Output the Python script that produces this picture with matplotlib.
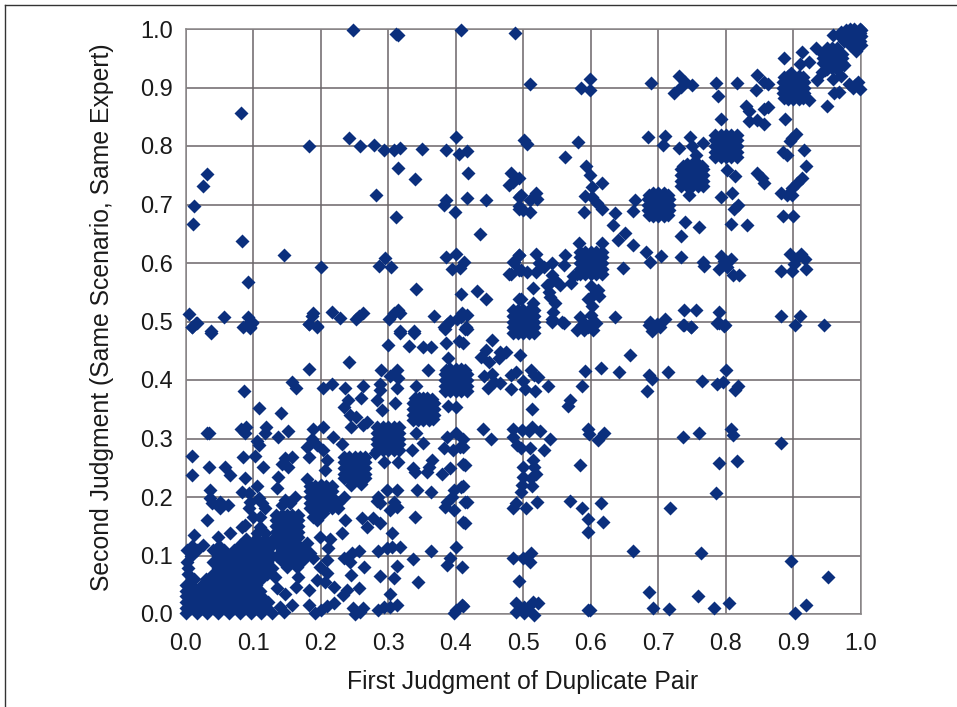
import matplotlib
matplotlib.use("Agg")
import matplotlib.pyplot as plt

plt.rcParams['font.family'] = ['Liberation Sans', 'DejaVu Sans']

# Readings as (first judgment, second judgment)
upper_left = [
(.248,.998),(.311,.991),(.315,.989),(.407,.998),(.488,.994),(.082,.857),(.242,.814),(.183,.80),(.258,.80),(.279,.802),
(.294,.793),(.309,.793),(.318,.796),(.35,.795),(.386,.794),(.40,.815),(.404,.787),(.416,.792),(.032,.752),(.025,.732),
(.013,.697),(.011,.667),(.083,.637),(.145,.614),(.201,.594),(.092,.567),(.282,.716),(.315,.763),(.339,.744),(.418,.753),
(.311,.679),(.386,.708),(.382,.699),(.399,.687),(.417,.711),(.445,.708),(.436,.649),(.481,.753),(.479,.733),(.485,.739),
(.493,.745),(.493,.713),(.494,.692),(.385,.61),(.40,.615),(.295,.608),(.286,.595),(.304,.593),(.394,.59),(.406,.591),
(.412,.601),(.485,.602),(.493,.614),(.479,.582),(.493,.588),(.341,.556),(.408,.547),(.432,.552),(.444,.538),(.493,.538),
(.005,.513),(.015,.497),(.009,.491),(.037,.483),(.056,.508),(.092,.508),(.085,.491),(.098,.497),(.095,.489),(.189,.515),
(.187,.509),(.182,.495),(.194,.492),(.216,.517),(.229,.506),(.252,.505),(.257,.509),(.262,.514),(.314,.52),(.308,.514),
(.318,.515),(.301,.504),(.317,.484),(.367,.51),(.338,.484),(.409,.514),(.417,.511),(.402,.504),(.387,.495),(.382,.49),
(.415,.491),(.392,.501),(.407,.507),
]
upper_right = [
(.51,.906),(.586,.899),(.598,.915),(.598,.896),(.689,.907),(.731,.92),(.739,.91),(.733,.901),(.75,.905),(.723,.891),
(.786,.907),(.788,.885),(.817,.908),(.846,.921),(.856,.91),(.863,.906),(.845,.895),(.83,.868),(.834,.859),(.856,.864),
(.862,.867),(.834,.842),(.846,.844),(.857,.838),(.793,.847),(.888,.847),(.886,.95),(.95,.868),(.96,.89),(.968,.893),
(.935,.912),(.959,.914),(.97,.919),(.982,.906),(.995,.91),(.988,.9),(.998,.897),(.991,.904),(.913,.961),(.934,.968),
(.923,.944),(.91,.941),(.947,.93),(.942,.927),(.975,.938),(.965,.932),(.958,.99),(.923,.878),(.897,.925),
(.745,.717),(.747,.816),(.71,.817),(.707,.802),(.684,.815),(.731,.796),(.75,.80),(.766,.805),(.755,.785),(.802,.759),
(.814,.748),(.792,.713),(.809,.719),(.818,.699),(.812,.693),(.846,.753),(.854,.745),(.856,.736),(.885,.79),(.891,.785),
(.915,.793),(.898,.813),(.904,.82),(.895,.809),(.919,.766),(.913,.745),(.905,.736),(.898,.728),(.881,.72),(.89,.716),
(.898,.716),(.885,.681),(.9,.681),(.807,.667),(.831,.665),(.739,.67),(.76,.662),(.733,.647),(.666,.708),(.662,.689),
(.501,.81),(.505,.803),(.581,.806),(.561,.782),(.593,.765),(.598,.75),(.602,.73),(.616,.737),(.592,.715),(.602,.713),
(.609,.702),(.617,.692),(.59,.687),(.636,.685),(.633,.665),(.64,.64),(.651,.652),(.663,.631),(.681,.619),(.688,.601),
(.704,.612),(.734,.61),(.766,.602),(.767,.595),(.792,.612),(.797,.603),(.807,.606),(.789,.59),(.801,.594),(.81,.58),
(.819,.58),(.895,.616),(.911,.616),(.904,.607),(.917,.607),(.901,.598),(.918,.59),(.881,.586),(.898,.586),(.583,.634),
(.617,.634),(.496,.716),(.518,.719),(.51,.708),(.52,.71),(.5,.69),(.493,.697),(.51,.687),(.648,.591),(.481,.582),
(.496,.588),(.505,.585),(.518,.585),(.493,.614),(.486,.602),(.518,.616),(.523,.6),(.53,.594),(.542,.6),(.561,.614),
(.56,.597),(.542,.58),(.547,.571),(.535,.562),(.54,.565),(.538,.55),(.54,.542),(.555,.562),(.57,.565),(.58,.582),
(.573,.577),(.515,.557),(.496,.538),(.515,.531),(.547,.531),(.544,.517),(.542,.505),(.557,.5),(.6,.56),(.61,.554),
(.602,.543),(.612,.543),(.596,.538),(.602,.527),(.635,.507),(.584,.508),(.6,.511),(.587,.494),(.607,.497),(.596,.49),
(.688,.5),(.698,.496),(.71,.505),(.738,.52),(.756,.519),(.737,.494),(.748,.491),(.789,.517),(.787,.497),(.798,.494),
(.881,.509),(.909,.509),(.903,.494),(.945,.494),
]
lower_right = [
(.543,.5),(.56,.497),(.58,.485),(.59,.485),(.603,.485),(.59,.497),(.6,.497),(.686,.494),(.691,.483),(.703,.491),
(.738,.494),(.749,.49),(.79,.497),(.797,.492),(.416,.487),(.41,.463),(.454,.468),(.444,.451),(.437,.44),(.449,.431),
(.466,.448),(.464,.437),(.474,.448),(.495,.442),(.658,.443),(.442,.406),(.454,.411),(.457,.397),(.466,.395),(.448,.386),
(.481,.385),(.489,.413),(.481,.408),(.511,.417),(.499,.399),(.516,.408),(.503,.385),(.521,.405),(.517,.381),(.536,.39),
(.591,.416),(.615,.42),(.642,.414),(.587,.39),(.686,.408),(.691,.401),(.683,.381),(.714,.414),(.765,.399),(.787,.393),
(.796,.397),(.8,.417),(.818,.39),(.814,.383),(.513,.35),(.569,.365),(.566,.356),(.44,.316),(.452,.299),(.485,.317),
(.484,.303),(.498,.314),(.508,.312),(.513,.32),(.525,.312),(.54,.299),(.53,.281),(.491,.289),(.496,.283),(.51,.283),
(.595,.317),(.597,.308),(.611,.297),(.62,.31),(.736,.303),(.76,.31),(.807,.317),(.811,.306),(.881,.293),(.41,.286),
(.413,.255),(.41,.218),(.416,.192),(.413,.156),(.584,.254),(.79,.258),(.816,.261),(.786,.207),(.515,.263),(.516,.252),
(.5,.252),(.518,.24),(.5,.235),(.512,.232),(.498,.221),(.513,.218),(.496,.209),(.489,.189),(.484,.181),(.504,.182),
(.52,.192),(.569,.193),(.587,.182),(.615,.189),(.595,.162),(.618,.158),(.595,.14),(.717,.181),(.662,.108),(.763,.105),
(.897,.091),(.951,.063),(.485,.095),(.499,.095),(.512,.105),(.51,.089),(.494,.056),(.686,.037),(.758,.031),(.804,.018),
(.783,.011),(.918,.015),(.902,.001),(.692,.011),(.716,.009),(.599,.007),(.595,.006),(.411,.014),(.489,.018),(.514,.021),
(.501,.012),(.489,.004),(.501,.001),(.516,-.001),(.521,.018),(.505,.008),
]
lower_left = [
(.009,.49),(.016,.497),(.037,.481),(.095,.49),(.093,.497),(.098,.5),(.182,.496),(.194,.49),(.317,.481),(.338,.481),
(.299,.46),(.331,.458),(.352,.456),(.363,.456),(.386,.464),(.404,.466),(.384,.487),(.413,.487),(.242,.431),(.183,.418),
(.289,.417),(.313,.417),(.359,.417),(.389,.438),(.157,.397),(.163,.386),(.086,.381),(.203,.386),(.217,.394),(.236,.386),
(.263,.389),(.259,.369),(.241,.366),(.288,.394),(.287,.383),(.303,.406),(.315,.403),(.313,.386),(.341,.39),(.283,.366),
(.31,.36),(.29,.349),(.234,.353),(.243,.34),(.252,.336),(.268,.329),(.262,.323),(.245,.319),(.388,.356),(.4,.353),
(.109,.352),(.141,.343),(.034,.309),(.031,.31),(.082,.316),(.089,.32),(.088,.309),(.119,.32),(.118,.309),(.151,.313),
(.136,.303),(.106,.295),(.108,.289),(.189,.317),(.203,.319),(.187,.3),(.218,.303),(.231,.291),(.18,.286),(.194,.289),
(.204,.28),(.182,.269),(.293,.26),(.28,.275),(.341,.309),(.335,.281),(.352,.292),(.364,.263),(.336,.25),(.34,.243),
(.357,.243),(.36,.252),(.379,.24),(.392,.249),(.411,.256),(.406,.286),(.396,.28),(.382,.283),(.387,.303),(.401,.309),
(.411,.3),(.315,.259),(.209,.263),(.206,.246),(.147,.266),(.157,.269),(.142,.257),(.152,.252),(.137,.235),(.085,.268),
(.103,.27),(.115,.252),(.088,.232),(.18,.23),(.01,.27),(.009,.238),(.034,.252),(.058,.252),(.066,.238),(.105,.218),
(.083,.209),(.093,.206),(.108,.198),(.095,.192),(.113,.189),(.093,.181),(.118,.181),(.1,.166),(.11,.166),(.036,.212),
(.036,.198),(.039,.189),(.051,.192),(.063,.186),(.051,.181),(.031,.161),(.012,.135),(.066,.138),(.048,.132),(.083,.149),
(.088,.152),(.026,.118),(.135,.215),(.147,.195),(.162,.2),(.142,.186),(.155,.189),(.285,.2),(.298,.212),(.313,.212),
(.288,.189),(.308,.192),(.303,.178),(.313,.183),(.283,.194),(.343,.212),(.363,.209),(.397,.212),(.407,.217),(.387,.192),
(.394,.2),(.397,.177),(.414,.192),(.384,.183),(.411,.158),(.339,.166),(.261,.164),(.268,.148),(.278,.164),(.288,.155),
(.236,.161),(.194,.161),(.204,.172),(.189,.166),(.305,.139),(.298,.112),(.285,.107),(.318,.114),(.306,.115),(.363,.107),
(.4,.115),(.336,.094),(.313,.082),(.392,.095),(.387,.084),(.409,.081),(.288,.065),(.309,.061),(.344,.055),(.303,.035),
(.313,.015),(.285,.007),(.293,.012),(.303,.012),(.397,.001),(.409,.015),(.401,.007),(.199,.132),(.214,.129),(.231,.138),
(.179,.121),(.184,.104),(.189,.095),(.174,.109),(.211,.112),(.209,.092),(.199,.081),(.209,.07),(.194,.058),(.206,.055),
(.219,.047),(.234,.095),(.246,.104),(.256,.107),(.244,.089),(.264,.081),(.245,.067),(.239,.041),(.233,.033),(.256,.044),
(.248,.011),(.25,0),(.263,.01),(.258,.004),(.182,.015),(.192,.001),(.209,.013),(.219,.018),(.201,.007),(.157,.015),
(.135,.044),(.147,.035),(.167,.064),(.164,.047),(.182,.041),(.132,.064),
]
dense_corner = [
(0,.002),(.016,.002),(.032,.002),(.048,.002),(.064,.002),(.08,.002),(.096,.002),(.112,.002),(.128,.002),(.145,.003),
(0,.011),(.008,.011),(.024,.011),(.04,.011),(.056,.011),(.072,.011),(.088,.011),(.104,.011),(.12,.011),(.14,.012),
(0,.02),(.016,.02),(.032,.02),(.048,.02),(.064,.02),(.08,.02),(.096,.02),(.11,.02),(.122,.02),
(0,.03),(.008,.03),(.024,.03),(.04,.03),(.056,.03),(.072,.03),(.088,.03),(.1,.03),(.112,.03),
(0,.04),(.016,.04),(.032,.04),(.048,.04),(.064,.04),(.08,.04),(.096,.04),(.11,.04),
(0,.05),(.008,.05),(.024,.05),(.04,.05),(.056,.05),(.072,.05),(.088,.05),(.104,.05),
(.012,.06),(.03,.06),(.048,.06),(.064,.06),(.08,.06),(.096,.06),(.112,.06),
(.004,.069),(.04,.069),(.056,.069),(.072,.069),(.088,.069),(.104,.069),(.12,.069),
(.004,.079),(.048,.079),(.064,.079),(.08,.079),(.096,.079),(.112,.079),(.128,.079),
(.002,.089),(.04,.089),(.056,.089),(.072,.089),(.088,.089),(.104,.089),(.12,.089),
(.008,.099),(.048,.099),(.064,.099),(.08,.099),(.096,.099),(.112,.099),(.128,.099),
(.002,.109),(.016,.109),(.04,.109),(.056,.109),(.072,.109),(.088,.109),(.104,.109),(.12,.109),
(.01,.117),(.05,.116),(.08,.118),(.096,.118),(.112,.118),(.128,.118),
(.09,.128),(.104,.128),(.118,.128),(.13,.128),(.105,.138),(.118,.138),(.11,.149),
(.135,.12),(.15,.12),(.165,.12),(.143,.11),(.158,.11),(.172,.11),(.135,.1),(.15,.1),(.165,.1),(.178,.1),
(.143,.09),(.158,.09),(.172,.09),(.15,.08),(.165,.08),
]
cluster_15 = [(.134,.15),(.142,.141),(.142,.159),(.15,.131),(.15,.15),(.15,.169),(.158,.141),(.158,.159),(.166,.15),(.15,.14),(.134,.131),(.166,.169),(.166,.131),(.134,.169),(.134,.14),(.134,.16),(.166,.14),(.166,.16),(.142,.169),(.158,.169),(.142,.131),(.158,.131)]
cluster_20 = [(.184,.2),(.192,.19),(.192,.21),(.2,.18),(.2,.2),(.2,.22),(.208,.19),(.208,.21),(.216,.2),(.184,.181),(.216,.181),(.184,.219),(.216,.219),(.226,.19),(.234,.2),(.226,.182),(.184,.19),(.184,.21),(.216,.19),(.216,.21),(.192,.219),(.208,.219),(.192,.181),(.208,.181)]
cluster_25 = [(.234,.25),(.242,.24),(.242,.26),(.25,.231),(.25,.25),(.25,.269),(.258,.24),(.258,.26),(.266,.25),(.234,.232),(.266,.232),(.234,.268),(.266,.268),(.245,.22),(.26,.222),(.234,.24),(.234,.26),(.266,.24),(.266,.26),(.242,.269),(.258,.269),(.242,.231),(.258,.231)]
cluster_30 = [(.284,.3),(.292,.29),(.292,.31),(.3,.281),(.3,.3),(.3,.319),(.308,.29),(.308,.31),(.316,.3),(.284,.281),(.316,.281),(.284,.319),(.316,.319),(.284,.29),(.284,.31),(.316,.29),(.316,.31),(.292,.319),(.308,.319),(.292,.281),(.308,.281)]
cluster_35 = [(.336,.35),(.344,.34),(.344,.36),(.352,.331),(.352,.35),(.352,.369),(.36,.34),(.36,.36),(.368,.35),(.336,.332),(.366,.333),(.34,.37),(.364,.368),(.336,.34),(.336,.36),(.368,.34),(.368,.36),(.344,.331),(.36,.331),(.346,.369),(.358,.369)]
cluster_40 = [(.384,.4),(.392,.39),(.392,.41),(.4,.381),(.4,.4),(.4,.419),(.408,.39),(.408,.41),(.416,.4),(.384,.381),(.416,.381),(.386,.417),(.414,.417),(.384,.39),(.384,.41),(.416,.39),(.416,.41),(.392,.419),(.408,.419),(.392,.381),(.408,.381)]
cluster_50 = [(.484,.5),(.492,.49),(.492,.51),(.5,.481),(.5,.5),(.5,.519),(.508,.49),(.508,.51),(.516,.5),(.484,.481),(.516,.481),(.484,.519),(.516,.519),(.484,.49),(.484,.51),(.516,.49),(.516,.51),(.492,.519),(.508,.519),(.492,.481),(.508,.481)]
cluster_60 = [(.584,.6),(.592,.59),(.592,.61),(.6,.581),(.6,.6),(.6,.619),(.608,.59),(.608,.61),(.616,.6),(.584,.581),(.616,.581),(.584,.619),(.616,.619),(.584,.59),(.584,.61),(.616,.59),(.616,.61),(.592,.619),(.608,.619),(.592,.581),(.608,.581)]
cluster_70 = [(.684,.7),(.692,.69),(.692,.71),(.7,.681),(.7,.7),(.7,.719),(.708,.69),(.708,.71),(.716,.7),(.686,.682),(.714,.682),(.686,.716),(.714,.716),(.684,.69),(.684,.71),(.716,.69),(.716,.71),(.692,.719),(.708,.719),(.692,.681),(.708,.681)]
cluster_75 = [(.734,.75),(.742,.74),(.742,.76),(.75,.731),(.75,.75),(.75,.769),(.758,.74),(.758,.76),(.766,.75),(.734,.732),(.766,.732),(.736,.766),(.764,.766),(.734,.74),(.734,.76),(.766,.74),(.766,.76),(.742,.769),(.758,.769),(.742,.731),(.758,.731)]
cluster_80 = [(.784,.8),(.792,.79),(.792,.81),(.8,.781),(.8,.8),(.8,.819),(.808,.79),(.808,.81),(.816,.8),(.784,.781),(.816,.781),(.784,.819),(.816,.819),(.784,.79),(.784,.81),(.816,.79),(.816,.81),(.792,.819),(.808,.819),(.792,.781),(.808,.781)]
cluster_90 = [(.884,.9),(.892,.89),(.892,.91),(.9,.881),(.9,.9),(.9,.919),(.908,.89),(.908,.91),(.916,.9),(.886,.882),(.914,.882),(.886,.918),(.914,.918),(.884,.89),(.884,.91),(.916,.89),(.916,.91),(.892,.919),(.908,.919),(.892,.881),(.908,.881)]
cluster_95 = [(.943,.95),(.95,.94),(.95,.96),(.957,.933),(.957,.95),(.957,.967),(.964,.94),(.964,.96),(.972,.95),(.943,.942),(.943,.958),(.95,.932),(.95,.968),(.964,.932),(.964,.968),(.972,.942),(.972,.958)]
cluster_99 = [(.975,.99),(.983,.98),(.983,.993),(.99,.972),(.99,.987),(.99,1.0),(.998,.98),(.998,.993),(1.0,.988),(.978,.999),(.993,.963),(.975,.98),(.983,.972),(.998,.972),(.983,1.0),(.998,1.0),(.97,.995),(.968,.99),(.99,.98),(1.0,.972),(1.0,.998),(.99,.993)]

point_groups = [upper_left, upper_right, lower_right, lower_left, dense_corner, cluster_15, cluster_20,
                cluster_25, cluster_30, cluster_35, cluster_40, cluster_50, cluster_60, cluster_70,
                cluster_75, cluster_80, cluster_90, cluster_95, cluster_99]
first_judgment = [p[0] for g in point_groups for p in g]
second_judgment = [p[1] for g in point_groups for p in g]

tick_values = [0, .1, .2, .3, .4, .5, .6, .7, .8, .9, 1.0]
tick_labels = ["0.0", "0.1", "0.2", "0.3", "0.4", "0.5", "0.6", "0.7", "0.8", "0.9", "1.0"]

W, H = 957, 707
fig = plt.figure(figsize=(W / 100, H / 100), dpi=100)
ax = fig.add_axes([185.7 / W, 1 - 614 / H, 675.3 / W, 585 / H])
ax.set_xlim(0, 1)
ax.set_ylim(0, 1)
ax.set_xticks(tick_values, tick_labels)
ax.set_yticks(tick_values, tick_labels)
ax.tick_params(axis='x', length=0, labelsize=17, pad=14, colors='#1a1a1a')
ax.tick_params(axis='y', length=0, labelsize=17, pad=9, colors='#1a1a1a')
ax.grid(True, color='#6b6568', linewidth=1.1)
ax.set_axisbelow(True)
for s in ax.spines.values():
    s.set_color('#8a8688')
    s.set_linewidth(1.1)
ax.plot(first_judgment, second_judgment, linestyle='none', marker='D', ms=7.3, mfc='#0b2f7d', mec='none', clip_on=False, zorder=3)
fig.text(523 / W, 1 - 682 / H, "First Judgment of Duplicate Pair", ha='center', va='center', fontsize=17.8, color='#1a1a1a')
fig.text(102 / W, 1 - 317 / H, "Second Judgment (Same Scenario, Same Expert)", rotation=90, ha='center', va='center', fontsize=17.8, color='#1a1a1a')
fig.add_artist(plt.Line2D([4.5 / W, 4.5 / W], [0, 1 - 5 / H], color='#333333', lw=1))
fig.add_artist(plt.Line2D([4.5 / W, 1], [1 - 5 / H, 1 - 5 / H], color='#333333', lw=1))
fig.savefig("out.png", dpi=100)
